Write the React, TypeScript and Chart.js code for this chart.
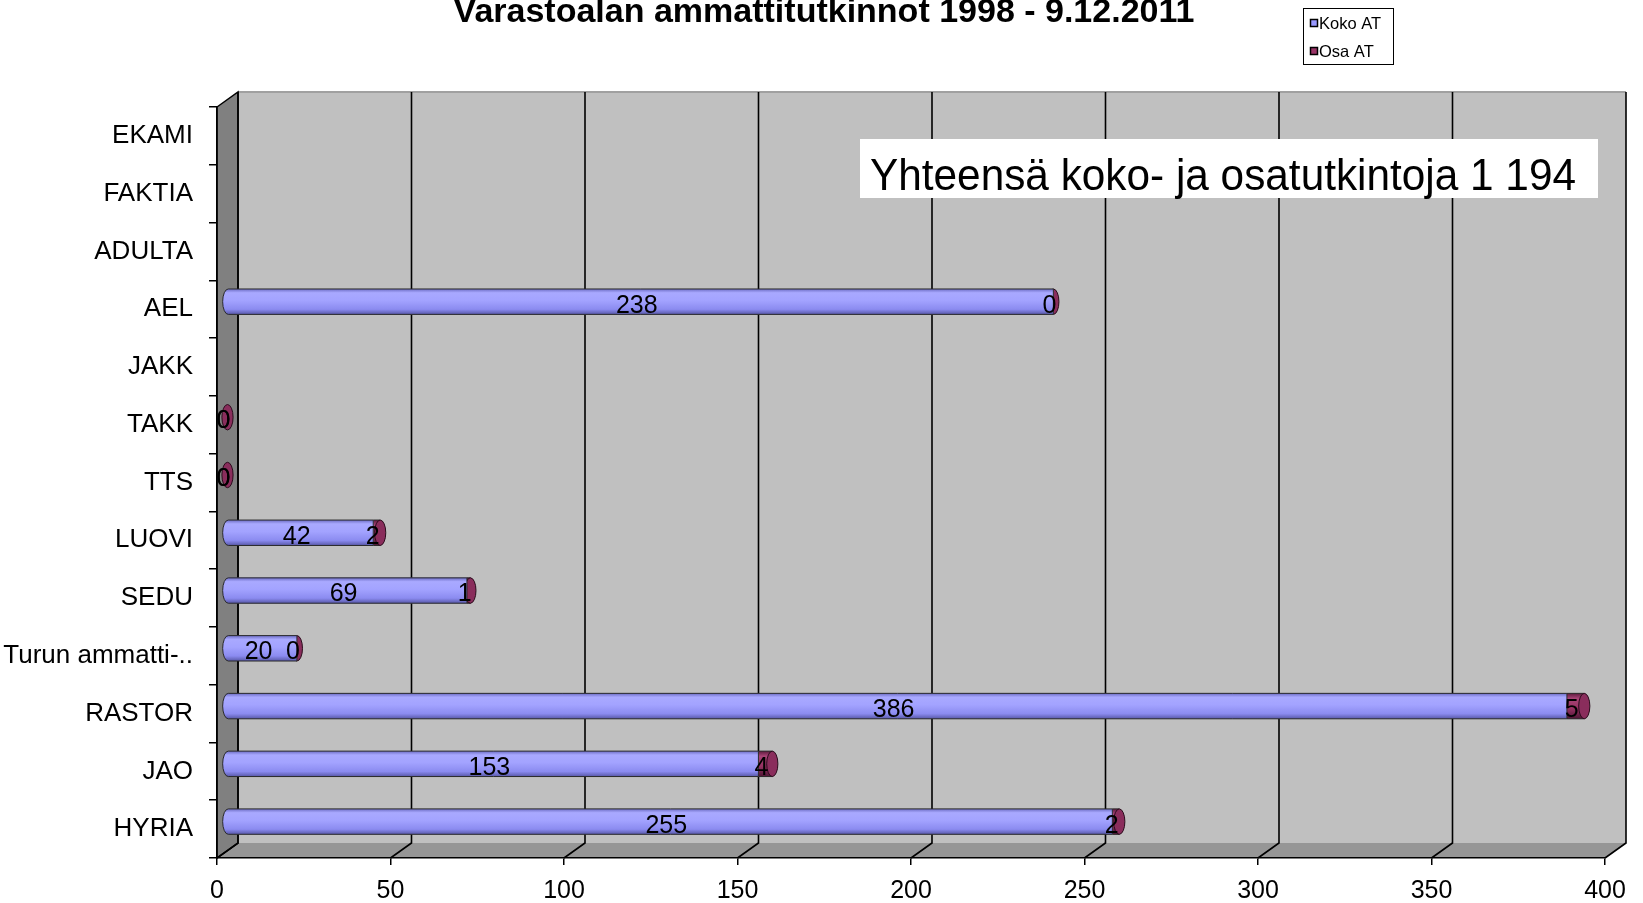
import React, { useEffect, useRef } from "react";
import { Chart, registerables } from "chart.js";

Chart.register(...registerables);

const categories = [
  "EKAMI",
  "FAKTIA",
  "ADULTA",
  "AEL",
  "JAKK",
  "TAKK",
  "TTS",
  "LUOVI",
  "SEDU",
  "Turun ammatti-..",
  "RASTOR",
  "JAO",
  "HYRIA",
];
const kokoAT: (number | null)[] = [null, null, null, 238, null, 0, 0, 42, 69, 20, 386, 153, 255];
const osaAT: (number | null)[] = [null, null, null, 0, null, 0, 0, 2, 1, 0, 5, 4, 2];
const seriesNames = ["Koko AT", "Osa AT"];
const seriesColors = ["#9999ff", "#993366"];
const xMin = 0;
const xMax = 400;
const xStep = 50;
const titleText = "Varastoalan ammattitutkinnot 1998 - 9.12.2011";
const noteText = "Yhteensä koko- ja osatutkintoja 1 194";

const FONT = "'Liberation Sans', Arial, Helvetica, sans-serif";
const DX = 21;
const DY = -15;

const wallsPlugin = {
  id: "walls3d",
  beforeDraw(chart: any) {
    const { ctx, chartArea: a, scales } = chart;
    const x = scales.x;
    ctx.save();
    ctx.fillStyle = "#c0c0c0";
    ctx.fillRect(a.left + DX, a.top + DY, a.right - a.left, a.bottom - a.top);
    ctx.strokeStyle = "#a0a0a0";
    ctx.lineWidth = 2;
    ctx.beginPath();
    ctx.moveTo(a.left + DX, a.top + DY);
    ctx.lineTo(a.right + DX, a.top + DY);
    ctx.stroke();
    ctx.beginPath();
    ctx.moveTo(a.left, a.bottom);
    ctx.lineTo(a.left + DX, a.bottom + DY);
    ctx.lineTo(a.right + DX, a.bottom + DY);
    ctx.lineTo(a.right, a.bottom);
    ctx.closePath();
    ctx.fillStyle = "#969696";
    ctx.fill();
    ctx.beginPath();
    ctx.moveTo(a.left, a.top);
    ctx.lineTo(a.left + DX, a.top + DY);
    ctx.lineTo(a.left + DX, a.bottom + DY);
    ctx.lineTo(a.left, a.bottom);
    ctx.closePath();
    ctx.fillStyle = "#808080";
    ctx.fill();
    ctx.strokeStyle = "#000";
    ctx.lineWidth = 1.5;
    ctx.stroke();
    ctx.strokeStyle = "#000";
    ctx.lineWidth = 1.6;
    for (const t of x.ticks) {
      const px = x.getPixelForValue(t.value);
      ctx.beginPath();
      ctx.moveTo(px + DX, a.top + DY);
      ctx.lineTo(px + DX, a.bottom + DY);
      ctx.lineTo(px, a.bottom);
      ctx.stroke();
    }
    ctx.restore();
  },
};

function shade(ctx: CanvasRenderingContext2D, top: number, h: number, stops: [number, string][]) {
  const g = ctx.createLinearGradient(0, top, 0, top + h);
  for (const [o, c] of stops) g.addColorStop(o, c);
  return g;
}

const kokoStops: [number, string][] = [
  [0, "#6c6cc4"],
  [0.15, "#a9a9ff"],
  [0.45, "#a3a3ff"],
  [0.8, "#8b8bf0"],
  [1, "#5858a8"],
];
const osaStops: [number, string][] = [
  [0, "#5e1a3e"],
  [0.2, "#a84476"],
  [0.6, "#953262"],
  [1, "#4e1534"],
];

const barsPlugin = {
  id: "bars3d",
  beforeDatasetsDraw(chart: any) {
    chart.ctx.save();
    chart.ctx.translate(DX / 2, DY / 2);
  },
  afterDatasetDraw(chart: any, args: any) {
    const { ctx } = chart;
    const di = args.index;
    const meta = args.meta;
    const values = chart.data.datasets[di].data;
    meta.data.forEach((el: any, i: number) => {
      if (values[i] === null || values[i] === undefined) return;
      const p = el.getProps(["x", "y", "base", "height"], true);
      const h = p.height;
      const x1 = Math.min(p.base, p.x);
      const x2 = Math.max(p.base, p.x);
      const top = p.y - h / 2;
      const bottom = p.y + h / 2;
      const rx = h * 0.22;
      ctx.save();
      ctx.lineWidth = 1;
      ctx.strokeStyle = "#2a2a2a";
      if (di === 0) {
        if (x2 - x1 < 0.5) {
          ctx.restore();
          return;
        }
        ctx.beginPath();
        ctx.moveTo(x2, top);
        ctx.lineTo(x1, top);
        ctx.ellipse(x1, p.y, rx, h / 2, 0, -Math.PI / 2, Math.PI / 2, true);
        ctx.lineTo(x2, bottom);
        ctx.closePath();
        ctx.fillStyle = shade(ctx, top, h, kokoStops);
        ctx.fill();
        ctx.stroke();
      } else {
        if (x2 - x1 >= 0.5) {
          ctx.beginPath();
          ctx.moveTo(x1, top);
          ctx.lineTo(x2, top);
          ctx.lineTo(x2, bottom);
          ctx.lineTo(x1, bottom);
          ctx.fillStyle = shade(ctx, top, h, osaStops);
          ctx.fill();
          ctx.stroke();
        }
        ctx.beginPath();
        ctx.ellipse(x2, p.y, rx, h / 2, 0, 0, Math.PI * 2);
        ctx.fillStyle = "#8a2d5c";
        ctx.fill();
        ctx.strokeStyle = "#2a0c1c";
        ctx.stroke();
      }
      ctx.restore();
    });
  },
  afterDatasetsDraw(chart: any) {
    const { ctx } = chart;
    ctx.save();
    ctx.fillStyle = "#000";
    ctx.font = `25px ${FONT}`;
    ctx.textAlign = "center";
    ctx.textBaseline = "middle";
    chart.data.datasets.forEach((ds: any, di: number) => {
      const meta = chart.getDatasetMeta(di);
      meta.data.forEach((el: any, i: number) => {
        const v = ds.data[i];
        if (v === null || v === undefined) return;
        const p = el.getProps(["x", "y", "base"], true);
        const cx = (p.x + p.base) / 2 - 4;
        ctx.fillText(String(v), cx, p.y + 4);
      });
    });
    ctx.restore();
    ctx.restore();
  },
};

const decorPlugin = {
  id: "decor",
  afterDraw(chart: any) {
    const { ctx } = chart;
    ctx.save();
    ctx.fillStyle = "#000";
    ctx.font = `bold 34px ${FONT}`;
    ctx.textAlign = "center";
    ctx.textBaseline = "alphabetic";
    ctx.fillText(titleText, 824, 22);
    ctx.fillStyle = "#fff";
    ctx.fillRect(1303, 8, 90, 56);
    ctx.strokeStyle = "#000";
    ctx.lineWidth = 1;
    ctx.strokeRect(1303.5, 8.5, 90, 56);
    ctx.font = `16.5px ${FONT}`;
    ctx.textAlign = "left";
    ctx.textBaseline = "middle";
    chart.data.datasets.forEach((ds: any, i: number) => {
      const cy = 23 + i * 28;
      ctx.fillStyle = ds.legendColor;
      ctx.fillRect(1310.5, cy - 3.5, 7, 7);
      ctx.strokeStyle = "#000";
      ctx.lineWidth = 1.5;
      ctx.strokeRect(1310.5, cy - 3.5, 7, 7);
      ctx.fillStyle = "#000";
      ctx.fillText(ds.label, 1319, cy + 1);
    });
    ctx.fillStyle = "#fff";
    ctx.fillRect(860, 139, 738, 59);
    ctx.fillStyle = "#000";
    ctx.font = `44px ${FONT}`;
    ctx.textBaseline = "alphabetic";
    const w = ctx.measureText(noteText).width;
    const sx = 706 / w;
    ctx.translate(870, 190);
    ctx.scale(sx, 1);
    ctx.fillText(noteText, 0, 0);
    ctx.restore();
  },
};

export default function App() {
  const ref = useRef<HTMLCanvasElement>(null);
  useEffect(() => {
    const chart = new Chart(ref.current as HTMLCanvasElement, {
      type: "bar",
      data: {
        labels: categories,
        datasets: [
          {
            label: seriesNames[0],
            data: kokoAT,
            backgroundColor: seriesColors[0],
            borderWidth: 0,
            legendColor: seriesColors[0],
          } as any,
          {
            label: seriesNames[1],
            data: osaAT,
            backgroundColor: seriesColors[1],
            borderWidth: 0,
            legendColor: seriesColors[1],
          } as any,
        ],
      },
      options: {
        indexAxis: "y",
        animation: false,
        responsive: false,
        devicePixelRatio: 1,
        layout: { padding: { left: 0, top: 107, right: 38, bottom: 0 } },
        datasets: { bar: { barPercentage: 0.44, categoryPercentage: 1, clip: false as any } },
        plugins: {
          legend: { display: false },
          title: { display: false },
          tooltip: { enabled: false },
        },
        scales: {
          x: {
            stacked: true,
            min: xMin,
            max: xMax,
            ticks: {
              stepSize: xStep,
              color: "#000",
              font: { family: FONT, size: 25 },
              padding: 11,
              maxRotation: 0,
              autoSkip: false,
            },
            grid: { drawOnChartArea: false, drawTicks: true, tickLength: 7, color: "#000", lineWidth: 1.5 },
            border: { display: true, color: "#000", width: 1.5 },
            afterFit: (s: any) => {
              s.height = 45;
            },
          },
          y: {
            stacked: true,
            offset: true,
            ticks: {
              color: "#000",
              font: { family: FONT, size: 26 },
              padding: 16,
              autoSkip: false,
            },
            grid: { drawOnChartArea: false, drawTicks: true, tickLength: 8, color: "#000", offset: true, lineWidth: 1.5 },
            border: { display: true, color: "#000", width: 1.5 },
            afterFit: (s: any) => {
              s.width = 217;
            },
          },
        },
      },
      plugins: [wallsPlugin, barsPlugin, decorPlugin],
    });
    return () => chart.destroy();
  }, []);
  return (
    <div style={{ position: "fixed", left: 0, top: 0, width: 1643, height: 903, background: "#fff" }}>
      <canvas ref={ref} width={1643} height={903} style={{ display: "block", width: 1643, height: 903 }} />
    </div>
  );
}
